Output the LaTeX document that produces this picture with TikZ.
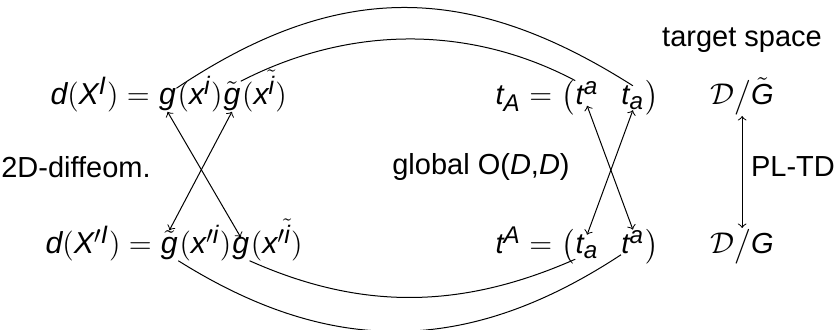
\documentclass[tikz,border=0pt]{standalone}
\usepackage{amsmath,amssymb}
\usepackage{fontspec}
\setmainfont{Liberation Sans}
\usepackage[italic]{mathastext}
\usepackage{tikz}
\usetikzlibrary{positioning}

\tikzset{piece/.style={inner sep=0pt,anchor=base west},
  wpiece/.style={piece,font=\fontsize{12.1}{14}\selectfont}}

\begin{document}
\begin{tikzpicture}[x=0.4pt,y=0.4pt,font=\fontsize{11.6}{14}\selectfont]
\useasboundingbox (0,0) rectangle (837,330);
% world-sheet, top row
\node[wpiece] (lhsT) at (50,225) {$d(X^I) = {}$};
\node[wpiece] (gT) at (lhsT.base east) {$g$};
\node[wpiece,xshift=0.3pt] (xT) at (gT.base east) {$(x^i)$};
\node[wpiece] (gtT) at (xT.base east) {$\tilde g$};
\node[wpiece,xshift=0.3pt] (xtT) at (gtT.base east) {$(x^{\tilde i})$};
% world-sheet, bottom row
\node[wpiece] (lhsB) at (45,76) {$d(X'^I) = {}$};
\node[wpiece] (gtB) at (lhsB.base east) {$\tilde g$};
\node[wpiece,xshift=0.3pt] (xB) at (gtB.base east) {$(x'^i)$};
\node[wpiece] (gB) at (xB.base east) {$g$};
\node[wpiece,xshift=0.3pt] (xtB) at (gB.base east) {$(x'^{\tilde i})$};
% doubled coordinates
\node[piece] (tAT) at (495,225) {$t_A = {}$};
\node[piece] (lpT) at (tAT.base east) {$\bigl($};
\node[piece] (tupT) at (lpT.base east) {$t^a$};
\node[piece,xshift=8.8pt] (tdnT) at (tupT.base east) {$t_a$};
\node[piece] (rpT) at (tdnT.base east) {$\bigr)$};
\node[piece] (tAB) at (495,76) {$t^A = {}$};
\node[piece] (lpB) at (tAB.base east) {$\bigl($};
\node[piece] (tdnB) at (lpB.base east) {$t_a$};
\node[piece,xshift=8.8pt] (tupB) at (tdnB.base east) {$t^a$};
\node[piece] (rpB) at (tupB.base east) {$\bigr)$};
% target space
\node[piece] (DGt) at (710,225) {$\mathcal{D}\big/\tilde G$};
\node[piece] (DG) at (710,76) {$\mathcal{D}\big/G$};
\node (target) at (742,290) {target space};
\node (pltd) at (793,163) {PL-TD};
\node (diffeo) at (76,163) {2D-diffeom.};
\node (odd) at (481,163) {global O($D$,$D$)};

\draw[<->] (gT.south) -- (gB.north);
\draw[<->] (gtT.south) -- (gtB.north);
\draw[<->] (tupT.south) -- (tupB.north);
\draw[<->] (tdnT.south) -- (tdnB.north);
\draw[<->] (DGt.south) -- (DG.north);

\draw (gT.north east) .. controls (337,349) and (468,349) .. (tdnT.north);
\draw (gtT.north east) .. controls (350,305) and (470,305) .. (tupT.north west);
\draw (gtB.south east) .. controls (330,-26) and (467,-26) .. (tupB.south west);
\draw (gB.south east) .. controls (360,20) and (460,20) .. (tdnB.south west);
\end{tikzpicture}
\end{document}
